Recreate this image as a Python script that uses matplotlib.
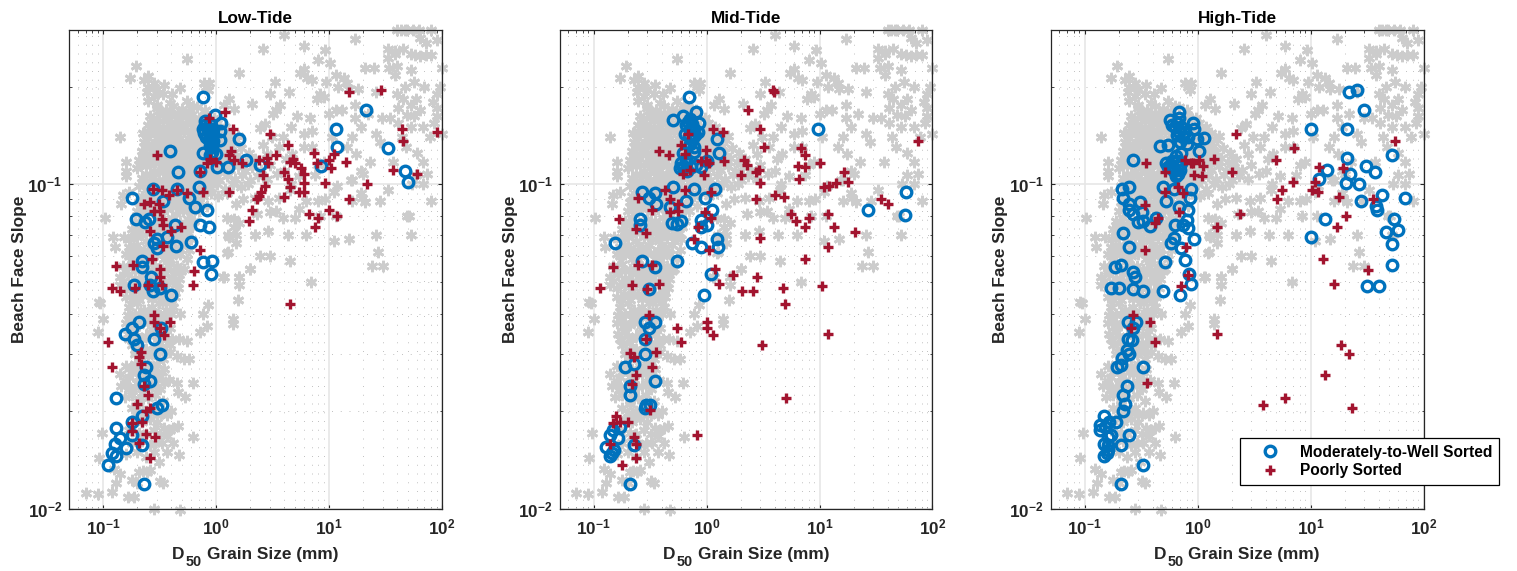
import matplotlib
matplotlib.use("Agg")
import matplotlib.pyplot as plt
from matplotlib.lines import Line2D
from matplotlib.ticker import LogLocator, NullFormatter, FixedLocator, FixedFormatter

plt.rcParams["font.family"] = ["Liberation Sans", "DejaVu Sans"]
plt.rcParams["font.weight"] = "bold"
plt.rcParams["mathtext.fontset"] = "custom"
plt.rcParams["mathtext.bf"] = "Liberation Sans:bold"
plt.rcParams["mathtext.rm"] = "Liberation Sans:bold"
plt.rcParams["mathtext.default"] = "bf"

# (D50 mm, slope)
gray_pts = [
    # top and right scatter
    (40,.3),(43,.3),(47,.3),(49,.3),(55,.3),(62,.3),(80,.298),(64,.283),(72,.272),(90,.278),(17,.28),(4,.288),
    (2.6,.262),(6,.267),(9.3,.26),(33,.262),(38,.258),(45,.262),(33,.245),(38,.252),(34,.229),(21,.229),(25,.229),
    (40,.232),(53,.252),(58,.25),(64,.249),(72,.25),(80,.251),(38,.217),(53,.225),(100,.229),(10.3,.237),(8,.241),
    (6,.226),(5.5,.22),(6.4,.213),(7,.21),(9.5,.206),(11.5,.218),(13.5,.212),(14.5,.205),(3.3,.206),(3,.19),(4.4,.192),
    (8.4,.19),(7.8,.183),(9,.186),(12,.2),(15,.197),(18,.197),(26,.192),(40,.19),(47,.2),(56,.206),(69,.2),(90,.19),
    (59,.183),(53,.175),(64,.17),(84,.18),(45,.183),(41,.172),(49,.164),(57,.162),(90,.162),(90,.172),(96,.2),
    (3.4,.17),(3.7,.175),(2.7,.154),(2.45,.149),(3.2,.165),(5.2,.162),(6.8,.16),(10,.165),(11.5,.17),(13,.17),
    (17,.175),(17,.16),(22,.165),(29.5,.16),(35,.16),(41,.155),(19,.15),(16,.14),(26,.143),(28,.135),(53,.15),
    (68,.15),(78,.14),(6,.143),(7,.146),(6,.13),(7,.13),(4.7,.124),(4.2,.12),(2.6,.132),(2.8,.124),(10.6,.14),
    (14.5,.13),(17.5,.124),(23,.117),(19,.11),(20,.108),(8,.115),(9,.117),(37,.117),(68,.117),(100,.143),(59,.107),
    (74,.108),(54,.1),(68,.1),(5.4,.106),(7.5,.107),(33,.096),(15.5,.103),(19,.094),(19.5,.091),(21,.088),(28.5,.089),
    (80,.089),(49,.08),(16,.089),(11.5,.08),(3.4,.083),(8.4,.08),(5.4,.084),(48,.13),(44,.14),(60,.125),(85,.155),
    (3.1,.14),(3.6,.13),(3.9,.14),(4.6,.15),(3,.115),(3.5,.108),(4,.11),(4.6,.1),
    # lower right
    (11.7,.099),(11,.095),(16,.103),(9.2,.09),(8,.089),(6.3,.089),(4.5,.096),(3.6,.091),(2.9,.089),(2.2,.091),(1.75,.09),
    (1.5,.087),(2.3,.081),(1.43,.078),(1.25,.079),(1.43,.074),(1.6,.076),(3,.082),(3.9,.079),(5,.079),(51,.08),(11,.067),
    (15,.068),(6.3,.07),(4.3,.07),(2.9,.072),(2.2,.07),(1.3,.069),(1.5,.07),(26,.07),(53,.07),(27,.062),(24,.056),(30,.056),
    (4.5,.058),(2.45,.06),(3,.06),(1.25,.0615),(2,.055),(1.6,.052),(1.17,.052),(1.6,.049),(6.9,.05),(1.58,.044),
    (1.4,.0385),(1.4,.0372),(.85,.0425),(.77,.04),(.48,.04),(.095,.0432),(.1,.0386),(.09,.035),(.58,.029),(.62,.0245),
    (.53,.0222),(.46,.023),(.72,.035),(.83,.0365),(.47,.0333),(.55,.033),(.63,.0167),(.097,.0172),(.39,.0175),
    (.33,.016),(.42,.016),(.47,.0147),(.37,.015),(.31,.014),(.092,.0144),(.32,.0122),(.34,.012),(.13,.012),(.12,.0113),
    (.07,.0112),(.09,.0111),(.165,.0109),(.187,.0109),(.28,.01),(.48,.0099),(.21,.013),(.245,.013),(.14,.0128),
    (.125,.0133),(.18,.0123),(.2,.012),(.225,.0131),(.26,.0132),
    # left side outliers
    (.195,.232),(.172,.213),(.25,.215),(.23,.21),(.55,.243),(.14,.14),(.225,.144),(.16,.117),(.16,.11),(.16,.106),
    (2.1,.177),(1.6,.22),(.104,.079),(.123,.069),(.153,.069),(.127,.064),(.16,.061),(.092,.0435),(1.27,.07),(1.5,.066),
    (2.2,.07),(1.27,.062),(1.6,.052),(1.15,.052),(2,.055),
    # upper blob edge
    (.245,.192),(.28,.187),(.35,.202),(.34,.19),(.41,.19),(.48,.198),(.82,.2),(.85,.195),(.25,.181),(.3,.176),(.39,.178),
    (.55,.181),(.63,.174),(1.3,.183),(1.17,.176),(1.43,.171),(.25,.2),(.28,.205),(.3,.197),(.78,.205),(.87,.205),
    # main blob
    (.3,.172),(.36,.17),(.42,.174),(.5,.171),(.58,.168),(.68,.173),(.8,.17),
    (.26,.162),(.31,.164),(.37,.16),(.43,.163),(.5,.161),(.6,.164),(.7,.16),(.82,.163),(.96,.16),
    (.25,.152),(.29,.154),(.34,.15),(.4,.153),(.47,.151),(.55,.154),(.64,.15),(.75,.153),(.88,.151),(1.03,.155),(1.2,.15),
    (.24,.143),(.28,.145),(.33,.141),(.38,.144),(.45,.142),(.52,.145),(.61,.141),(.71,.144),(.83,.142),(.97,.145),(1.13,.142),(1.32,.144),(1.55,.141),
    (.23,.135),(.27,.133),(.31,.136),(.37,.134),(.43,.137),(.5,.133),(.59,.136),(.69,.134),(.8,.137),(.94,.133),(1.1,.136),(1.28,.134),(1.5,.137),
    (.22,.127),(.26,.129),(.3,.125),(.35,.128),(.41,.126),(.48,.129),(.56,.125),(.66,.128),(.77,.126),(.9,.129),(1.05,.125),(1.22,.128),(1.43,.126),(1.68,.129),(1.95,.125),
    (.21,.119),(.25,.121),(.29,.117),(.34,.12),(.4,.118),(.46,.121),(.54,.117),(.63,.12),(.74,.118),(.86,.121),(1.0,.117),(1.18,.12),(1.38,.118),(1.6,.121),(1.85,.117),(2.2,.12),
    (.2,.112),(.24,.114),(.28,.11),(.33,.113),(.38,.111),(.45,.114),(.52,.11),(.61,.113),(.71,.111),(.83,.114),(.97,.11),(1.13,.113),(1.32,.111),(1.55,.114),(1.8,.11),(2.1,.113),(2.5,.111),
    (.22,.105),(.26,.107),(.31,.103),(.36,.106),(.42,.104),(.49,.107),(.57,.103),(.67,.106),(.78,.104),(.92,.107),(1.07,.103),(1.25,.106),(1.46,.104),(1.7,.107),(2.0,.103),(2.35,.106),(2.8,.104),
    (.21,.099),(.25,.098),(.29,.1),(.34,.097),(.4,.1),(.47,.098),(.55,.1),(.64,.097),(.75,.1),(.87,.098),(1.02,.1),(1.2,.097),(1.4,.1),(1.65,.098),(1.9,.1),
    (.15,.093),(.17,.095),(.22,.092),(.26,.094),(.3,.092),(.35,.095),(.41,.092),(.48,.094),(.56,.092),(.66,.095),(.77,.092),(.9,.094),(1.05,.092),(1.25,.094),
    (.145,.087),(.21,.088),(.24,.086),(.28,.089),(.33,.087),(.38,.088),(.45,.086),(.52,.089),(.61,.087),(.71,.088),(.83,.086),
    (.2,.083),(.23,.081),(.27,.084),(.32,.082),(.37,.084),(.44,.081),(.51,.083),(.6,.082),(.7,.083),
    (.19,.077),(.22,.079),(.26,.076),(.3,.078),(.35,.077),(.41,.079),(.48,.076),(.56,.078),(.64,.077),
    (.18,.073),(.21,.072),(.25,.074),(.29,.072),(.34,.074),(.4,.072),(.46,.073),(.54,.072),(.61,.074),
    (.175,.068),(.2,.069),(.24,.067),(.28,.069),(.33,.068),(.38,.067),(.45,.069),(.52,.067),(.6,.068),
    (.17,.064),(.2,.065),(.23,.063),(.27,.064),(.31,.065),(.37,.063),(.43,.064),(.5,.065),(.58,.063),
    (.17,.06),(.19,.061),(.22,.059),(.26,.06),(.3,.061),(.35,.059),(.41,.06),(.48,.061),(.55,.059),
    (.15,.056),(.18,.057),(.21,.055),(.25,.057),(.29,.056),(.33,.055),(.39,.057),(.45,.056),(.52,.055),
    (.14,.052),(.165,.053),(.19,.051),(.22,.053),(.26,.052),(.3,.051),(.35,.053),(.41,.052),(.47,.051),
    (.14,.049),(.16,.048),(.19,.049),(.22,.047),(.26,.049),(.3,.048),(.35,.049),(.41,.047),(.46,.048),
    (.16,.045),(.185,.046),(.21,.044),(.25,.046),(.29,.045),(.33,.044),(.38,.046),(.43,.045),
    (.17,.042),(.2,.043),(.23,.041),(.27,.042),(.31,.043),(.36,.041),(.42,.042),
    (.165,.0395),(.19,.04),(.22,.0385),(.26,.04),(.3,.039),(.34,.0385),(.4,.04),
    (.16,.0375),(.185,.0365),(.21,.037),(.25,.0375),(.29,.0365),(.33,.037),(.39,.036),
    (.165,.0345),(.19,.035),(.22,.0335),(.26,.035),(.3,.034),(.35,.0345),(.41,.0335),
    (.18,.032),(.21,.0325),(.24,.031),(.28,.032),(.33,.0315),(.39,.032),
    (.19,.03),(.21,.029),(.25,.0295),(.29,.03),(.34,.029),(.39,.0305),(.45,.0295),(.52,.029),
    (.16,.0275),(.19,.028),(.22,.027),(.26,.0275),(.3,.028),(.35,.027),
    (.14,.026),(.17,.0255),(.2,.0265),(.23,.025),(.27,.026),(.31,.0255),(.38,.025),(.45,.0245),
    (.145,.024),(.17,.0235),(.2,.0245),(.23,.0235),(.27,.024),(.32,.0235),
    (.155,.0222),(.18,.0225),(.21,.0215),(.25,.022),(.29,.0225),(.34,.0215),
    (.18,.0205),(.21,.021),(.24,.02),(.28,.0205),(.33,.0198),(.4,.02),
    (.19,.019),(.22,.0185),(.26,.019),(.3,.0185),(.35,.0178),(.42,.0178),(.46,.018),
    (.17,.0175),(.21,.0172),(.24,.017),(.28,.0175),(.32,.017),(.37,.0168),
    (.18,.016),(.22,.0162),(.26,.0158),(.29,.016),
    (.16,.0148),(.2,.015),(.24,.0145),(.28,.015),
    # in-between fill of the dense part
    (.33,.167),(.39,.166),(.46,.166),(.54,.165),(.28,.157),(.34,.157),(.4,.156),(.47,.157),(.56,.158),(.66,.157),(.78,.158),
    (.27,.148),(.32,.147),(.37,.148),(.44,.147),(.51,.148),(.6,.147),(.7,.148),(.82,.147),(.95,.149),(1.12,.148),
    (.25,.139),(.3,.139),(.35,.14),(.41,.139),(.48,.139),(.56,.139),(.65,.139),(.76,.14),(.9,.139),(1.05,.14),(1.22,.139),
    (.24,.131),(.28,.13),(.33,.131),(.39,.13),(.46,.131),(.53,.13),(.62,.131),(.73,.13),(.86,.131),(1.0,.131),(1.17,.13),(1.36,.131),
    (.23,.123),(.27,.123),(.32,.123),(.37,.122),(.44,.123),(.51,.122),(.6,.123),(.7,.122),(.82,.123),(.95,.122),(1.12,.123),(1.3,.122),
    (.22,.116),(.26,.115),(.31,.116),(.36,.115),(.42,.116),(.49,.115),(.57,.115),(.67,.116),(.78,.115),(.91,.116),(1.06,.115),(1.24,.116),
    (.24,.108),(.29,.108),(.34,.109),(.4,.108),(.47,.108),(.55,.109),(.64,.108),(.74,.109),(.87,.108),(1.02,.109),
    (.23,.102),(.27,.102),(.32,.101),(.37,.102),(.44,.102),(.51,.101),(.6,.102),(.7,.102),(.82,.101),(.96,.102),
    (.24,.096),(.28,.096),(.32,.097),(.38,.096),(.44,.096),(.52,.096),(.6,.095),(.71,.096),
    (.23,.09),(.26,.09),(.31,.09),(.36,.09),(.43,.09),(.5,.09),(.58,.09),(.68,.09),
    (.22,.085),(.25,.085),(.3,.085),(.35,.085),(.41,.085),(.48,.085),(.56,.085),(.65,.085),
    (.21,.075),(.24,.075),(.28,.075),(.32,.075),(.38,.075),(.44,.075),(.52,.075),(.59,.075),
    (.19,.07),(.22,.07),(.26,.071),(.31,.07),(.36,.071),(.42,.07),(.49,.07),(.57,.071),
    (.19,.0625),(.21,.0625),(.25,.062),(.29,.0625),(.34,.0615),(.39,.0625),(.46,.062),
    (.16,.054),(.19,.054),(.23,.055),(.27,.054),(.31,.0535),(.36,.055),(.43,.054),(.49,.054),
    (.15,.0505),(.18,.05),(.21,.05),(.24,.05),(.28,.0505),(.33,.05),(.38,.0505),(.44,.05),
    (.18,.044),(.22,.0455),(.27,.0445),(.31,.0465),(.35,.0445),(.4,.0435),
    (.18,.0385),(.21,.04),(.24,.0385),(.28,.0405),(.32,.0395),(.37,.039),
    (.17,.0335),(.2,.034),(.24,.034),(.28,.0345),(.32,.0325),(.37,.0335),
    (.2,.0305),(.23,.03),(.27,.0305),(.31,.0305),(.36,.0305),
    (.18,.0265),(.21,.0255),(.25,.0265),(.29,.0265),(.33,.0265),
    (.16,.0248),(.19,.0238),(.22,.0228),(.25,.0238),(.29,.0245),(.35,.0245),
    (.2,.0198),(.23,.0195),(.26,.0198),(.3,.0195),(.37,.0195),
]

low_well = [
    (.77,.186),(.98,.164),(1.1,.155),(.8,.157),(.77,.148),(.85,.148),(.95,.148),(1.08,.146),(.82,.14),(.91,.14),
    (1.08,.137),(1.6,.138),(.9,.135),(.93,.13),(.76,.125),(1.0,.124),(.88,.123),(.39,.127),(1.85,.119),(2.45,.115),
    (.8,.152),(.88,.153),(.78,.144),(.87,.144),(.95,.143),(.86,.137),(.95,.136),(.88,.131),(.92,.126),
    (1.27,.113),(1.03,.113),(.72,.11),(.46,.109),(8.5,.114),(21.4,.17),(11.6,.148),(11.8,.13),(33.5,.129),(47,.11),
    (50,.102),(.71,.098),(.45,.0965),(.275,.0965),(.18,.091),(.34,.089),(.58,.091),(.65,.085),(.84,.0835),(.196,.078),
    (.235,.0765),(.257,.078),(.43,.075),(.72,.075),(.87,.074),(.365,.069),(.3,.068),(.28,.066),(.3,.0635),(.44,.0645),
    (.6,.0665),(.22,.058),(.22,.0555),(.76,.0575),(.92,.058),(.9,.053),(.265,.052),(.187,.049),(.26,.049),(.275,.047),
    (.32,.048),(.4,.0455),(.21,.0377),(.18,.036),(.158,.0347),(.187,.0335),(.2,.032),(.28,.0333),(.325,.0362),(.32,.03),
    (.24,.0273),(.23,.0258),(.26,.0248),(.23,.0243),(.13,.0219),(.33,.0209),(.3,.0204),(.22,.0193),(.18,.0186),(.13,.0178),
    (.18,.0169),(.14,.0166),(.128,.0159),(.22,.0157),(.16,.0154),(.12,.0149),(.13,.0146),(.11,.0137),(.23,.0119),
]
low_poor = [
    (15,.193),(29,.195),(1.2,.167),(.87,.16),(1.4,.148),(3,.143),(44,.148),(90,.145),(45,.136),(4.3,.132),(.3,.123),
    (1.35,.127),(1.3,.123),(7.3,.125),(11,.124),(3.4,.123),(2.85,.121),(2.4,.119),(4.8,.12),(10,.119),(4.5,.117),(7.8,.116),
    (14,.117),(.88,.12),(1.0,.117),(.83,.116),(1.45,.119),(1.7,.116),(2.9,.116),(5,.116),(5.7,.112),(10.4,.112),(37,.111),
    (60,.108),(.72,.109),(4,.109),(6,.108),(2.6,.107),(4.3,.104),(6,.101),(9.2,.101),(21.5,.1),(2.7,.099),(4.5,.098),
    (2.5,.095),(5.4,.095),(6,.095),(2.4,.092),(4,.0915),(2.3,.09),(15,.09),(1.3,.0945),(2.1,.0835),(6.7,.081),(10,.0835),
    (8,.079),(11.8,.08),(1.97,.077),(7.5,.074),(.275,.097),(.33,.096),(.38,.093),(.45,.096),(.55,.094),(.77,.095),(.23,.087),
    (.26,.088),(.31,.087),(.28,.083),(.32,.083),(.33,.078),(.34,.075),(.4,.072),(.49,.074),(.26,.072),(.34,.0645),(.72,.063),
    (.27,.059),(.13,.056),(.185,.0565),(.32,.055),(.64,.054),(.32,.052),(.33,.049),(.62,.049),(.12,.048),(.14,.047),(.19,.048),
    (.25,.049),(4.5,.0427),(.28,.0395),(.28,.0377),(.39,.0377),(.32,.0362),(.35,.0343),(.11,.0327),(.215,.0305),(.21,.0294),
    (.215,.028),(.12,.0274),(.23,.0239),(.25,.0224),(.2,.021),(.26,.0205),(.24,.0201),(.22,.0186),(.18,.0184),(.18,.0174),
    (.24,.017),(.29,.0167),(.21,.016),(.26,.0144),
]
mid_well = [
    (.7,.186),(.8,.167),(.51,.158),(.62,.162),(.71,.159),(.85,.155),(.66,.152),(.77,.148),(.84,.145),(.65,.143),(.79,.142),
    (.74,.137),(1.23,.138),(.77,.13),(.62,.125),(.77,.126),(1.3,.125),(.6,.116),(.58,.112),(.66,.116),(1,.118),(.9,.113),
    (.68,.156),(.75,.153),(.72,.147),(.7,.141),(.76,.14),(.72,.133),(.66,.12),(.62,.113),(.67,.11),(.73,.113),(.8,.115),
    (9.6,.148),(.51,.098),(.78,.097),(1.2,.0965),(.27,.095),(.35,.094),(.31,.091),(.36,.087),(.66,.089),(.97,.091),(.48,.085),
    (1.12,.0835),(58,.0945),(27,.0835),(57,.0805),(.26,.078),(.26,.0748),(.5,.076),(.55,.0755),(.6,.077),(.9,.0775),(1,.0748),
    (.9,.074),(.155,.066),(.75,.066),(.9,.064),(1.23,.068),(1.27,.0643),(.27,.058),(.35,.0555),(.55,.058),(1.1,.053),(.31,.0477),
    (.95,.0455),(.285,.0377),(.35,.0377),(.31,.036),(.285,.0333),(.285,.03),(.23,.028),(.19,.0274),(.35,.0248),(.21,.0239),
    (.21,.0224),(.315,.0209),(.29,.0209),(.285,.0204),(.17,.0179),(.15,.0175),(.14,.0169),(.166,.0165),(.23,.0157),(.128,.0155),
    (.152,.0152),(.145,.0149),(.14,.0146),(.21,.0119),
]
mid_poor = [
    (3.9,.195),(3.95,.192),(2.35,.17),(3,.148),(1.15,.148),(1.4,.145),(.68,.143),(75,.136),(3.2,.13),(6.8,.129),(.6,.132),(.98,.128),
    (.38,.127),(.47,.123),(.65,.124),(7.4,.123),(2.15,.119),(1.42,.118),(.9,.118),(.99,.118),(1.05,.116),(10,.116),(2.3,.115),
    (6.5,.114),(7.4,.113),(2.9,.111),(2.75,.109),(16.5,.109),(2,.107),(.62,.108),(.71,.111),(.95,.107),(6.6,.104),(18,.102),(3,.101),
    (14,.101),(12.2,.099),(11,.098),(.43,.096),(.65,.096),(1.1,.095),(4,.093),(4.9,.0915),(2.75,.09),(.25,.091),(.48,.09),(35,.09),
    (40,.087),(.56,.087),(.56,.083),(.33,.0835),(.48,.082),(.97,.0825),(1.1,.079),(12,.081),(5.6,.081),(6.2,.077),(8,.079),(.168,.078),
    (.84,.074),(7.5,.074),(13.5,.074),(.237,.0727),(.29,.071),(20.5,.0715),(3,.0685),(.77,.068),(12,.0643),(1.05,.063),(7.4,.059),
    (.15,.0558),(.25,.0563),(.33,.0563),(1.2,.055),(1.7,.0525),(2.8,.052),(.22,.049),(.38,.0495),(1.28,.0495),(4.8,.048),(10.6,.0485),
    (.115,.048),(.3,.0477),(2.05,.047),(2.6,.047),(5,.0427),(.31,.0395),(1,.0377),(1,.0362),(.55,.036),(1.13,.0343),(.29,.0335),
    (.6,.0327),(3.1,.032),(12,.0347),(.36,.0305),(.21,.0302),(.23,.0294),(.33,.0274),(.24,.0258),(.22,.0243),(5.1,.0219),(.315,.0202),
    (.157,.0193),(.15,.0184),(.17,.0186),(.2,.0185),(.23,.0167),(.83,.0169),(.24,.0159),(.14,.0159),(.24,.0144),(.18,.0137),
]
high_well = [
    (.68,.167),(.57,.158),(.69,.16),(.92,.155),(.94,.148),(.63,.15),(.69,.145),(.75,.14),(1.15,.139),(.98,.138),(.8,.133),(.47,.131),
    (.55,.132),(1.03,.127),(.27,.119),(.53,.116),(.6,.118),(.67,.114),(.62,.11),(.67,.108),(.58,.115),(.64,.122),(.72,.125),(.7,.135),(.66,.142),(.6,.152),
    (.66,.155),(.72,.15),(.77,.145),(.83,.14),(.55,.113),(.6,.112),(.66,.118),(.7,.111),(.72,.116),(.64,.106),(10,.148),(21,.148),(22,.193),(26,.195),
    (30,.17),(53,.123),(21,.121),(31,.114),(14,.111),(37,.109),(22.5,.108),(11.8,.104),(20.5,.101),(27,.1),(.49,.098),(.62,.097),(.88,.0965),
    (.215,.097),(.25,.098),(.22,.091),(.53,.089),(.85,.091),(28,.089),(43,.093),(68,.091),(.25,.087),(.68,.085),(38,.086),(39,.0835),
    (.25,.0835),(.31,.088),(.32,.0825),(.27,.081),(.82,.0835),(.43,.079),(.3,.0765),(.33,.077),(.8,.0775),(.63,.0748),(.75,.0748),
    (.82,.0735),(.38,.0743),(13.5,.078),(55,.078),(47,.0715),(59,.0725),(.22,.071),(10,.0688),(.94,.068),(.62,.0685),(.58,.066),
    (.25,.064),(53,.0655),(.72,.0638),(.77,.0583),(.52,.0575),(.187,.0556),(.21,.0563),(53,.0563),(.27,.0537),(.28,.052),(.84,.053),
    (.88,.0495),(31.5,.0485),(40,.0488),(.17,.048),(.2,.048),(.27,.0477),(.33,.047),(.49,.047),(.7,.0455),(.245,.0377),(.285,.0377),
    (.27,.036),(.245,.0333),(.265,.0331),(.24,.0308),(.25,.03),(.215,.0291),(.195,.0274),(.21,.0277),(.33,.0274),(.24,.0239),(.22,.0224),
    (.23,.021),(.22,.0201),(.15,.0193),(.19,.0186),(.165,.0186),(.138,.0181),(.153,.0179),(.138,.0175),(.17,.0169),(.25,.0169),(.16,.0167),
    (.148,.0159),(.163,.0157),(.212,.0158),(.163,.0152),(.158,.0149),(.148,.0146),(.33,.0137),(.212,.0119),
]
high_poor = [
    (2.2,.143),(7.2,.129),(56,.136),(5,.119),(.35,.116),(.77,.119),(.87,.116),(1.03,.119),(1.4,.12),(1.12,.114),(.92,.116),(12,.113),
    (19.5,.112),(.52,.109),(2,.109),(.94,.107),(1.1,.106),(7,.102),(11,.102),(.67,.098),(.52,.095),(.75,.094),(5.6,.096),(10.3,.096),
    (11.6,.095),(5.1,.09),(18,.0915),(36,.09),(.34,.0867),(.68,.082),(2.4,.081),(.45,.079),(.42,.076),(20.5,.08),(1.5,.074),(17,.074),
    (.34,.063),(.79,.0643),(13,.059),(32,.0546),(.82,.0527),(.72,.0485),(16,.0492),(.27,.0395),(.38,.0377),(.26,.036),(1.5,.0347),
    (.42,.0327),(18.7,.032),(22,.03),(13.5,.0258),(.36,.0245),(5.9,.0219),(3.8,.0209),(23.5,.0204),
]
titles = ["Low-Tide", "Mid-Tide", "High-Tide"]
well_sets = [low_well, mid_well, high_well]
poor_sets = [low_poor, mid_poor, high_poor]

W, H = 1517, 571
blue = "#0072BD"
red = "#A2142F"
dark = "#262626"

fig = plt.figure(figsize=(W / 100, H / 100), dpi=100)
lefts = [69, 559.5, 1050.5]
axw, top, bottom = 373, 29.5, 509

for left, title, well, poor in zip(lefts, titles, well_sets, poor_sets):
    ax = fig.add_axes([left / W, 1 - bottom / H, axw / W, (bottom - top) / H])
    ax.set_xscale("log")
    ax.set_yscale("log")
    ax.plot(*zip(*gray_pts), ls="none", marker=(6, 2, 0), ms=8.2, mew=2.0, color="#cccccc", clip_on=False, zorder=2)
    ax.plot(*zip(*well), ls="none", marker="o", mfc="none", ms=7.6, mew=2.4, color=blue, clip_on=False, zorder=3)
    ax.plot(*zip(*poor), ls="none", marker="+", ms=7.5, mew=2.4, color=red, clip_on=False, zorder=4)
    ax.set_xlim(0.05, 100)
    ax.set_ylim(0.01, 0.3)
    ax.xaxis.set_major_locator(FixedLocator([0.1, 1, 10, 100]))
    ax.xaxis.set_major_formatter(FixedFormatter([r"$\mathbf{10^{-1}}$", r"$\mathbf{10^{0}}$", r"$\mathbf{10^{1}}$", r"$\mathbf{10^{2}}$"]))
    ax.yaxis.set_major_locator(FixedLocator([0.01, 0.1]))
    ax.yaxis.set_major_formatter(FixedFormatter([r"$\mathbf{10^{-2}}$", r"$\mathbf{10^{-1}}$"]))
    for axis in (ax.xaxis, ax.yaxis):
        axis.set_minor_locator(LogLocator(base=10, subs=(2, 3, 4, 5, 6, 7, 8, 9), numticks=12))
        axis.set_minor_formatter(NullFormatter())
    ax.set_axisbelow(True)
    ax.grid(True, which="major", color="#e6e6e6", lw=1.2, ls="-")
    ax.grid(True, which="minor", color="#c0c0c0", lw=0.7, ls=(0, (1, 8)))
    ax.tick_params(which="major", direction="in", top=True, right=True, length=3.2, width=0.8, color=dark,
                   labelsize=12.3, labelcolor=dark)
    ax.tick_params(axis="x", which="major", pad=6)
    ax.tick_params(axis="y", which="major", pad=5)
    ax.tick_params(which="minor", direction="in", top=True, right=True, length=1.8, width=0.6, color=dark)
    for sp in ax.spines.values():
        sp.set_color(dark)
        sp.set_linewidth(0.9)
    ax.set_title(title, fontsize=12.3, fontweight="bold", color="black", pad=5)
    ax.set_ylabel("Beach Face Slope", fontsize=12.4, fontweight="bold", color=dark)
    ax.yaxis.set_label_coords(-42 / axw, 0.5)
    # x label pieces: the subscript is bigger than mathtext makes it
    fig.text((left + 103) / W, 1 - 559 / H, "D", fontsize=12.4, color=dark, va="baseline")
    fig.text((left + 117) / W, 1 - 566 / H, "50", fontsize=10.4, color=dark, va="baseline")
    fig.text((left + 138) / W, 1 - 559 / H, "Grain Size (mm)", fontsize=12.4, color=dark, va="baseline")

handles = [
    Line2D([], [], ls="none", marker="o", mfc="none", ms=7.6, mew=2.4, color=blue),
    Line2D([], [], ls="none", marker="+", ms=7.5, mew=2.4, color=red),
]
leg = ax.legend(handles, ["Moderately-to-Well Sorted", "Poorly Sorted"], loc="lower left",
                bbox_to_anchor=(1240 / W, 1 - 485 / H), bbox_transform=fig.transFigure,
                borderaxespad=0, fontsize=11.2, fancybox=False, framealpha=1, edgecolor="black",
                handlelength=3.0, handletextpad=0.4, borderpad=0.45, labelspacing=0.2)
leg.get_frame().set_linewidth(0.9)
leg.set_zorder(10)
leg.set_clip_on(False)
for txt in leg.get_texts():
    txt.set_color("black")

fig.savefig("out.png", dpi=100)
